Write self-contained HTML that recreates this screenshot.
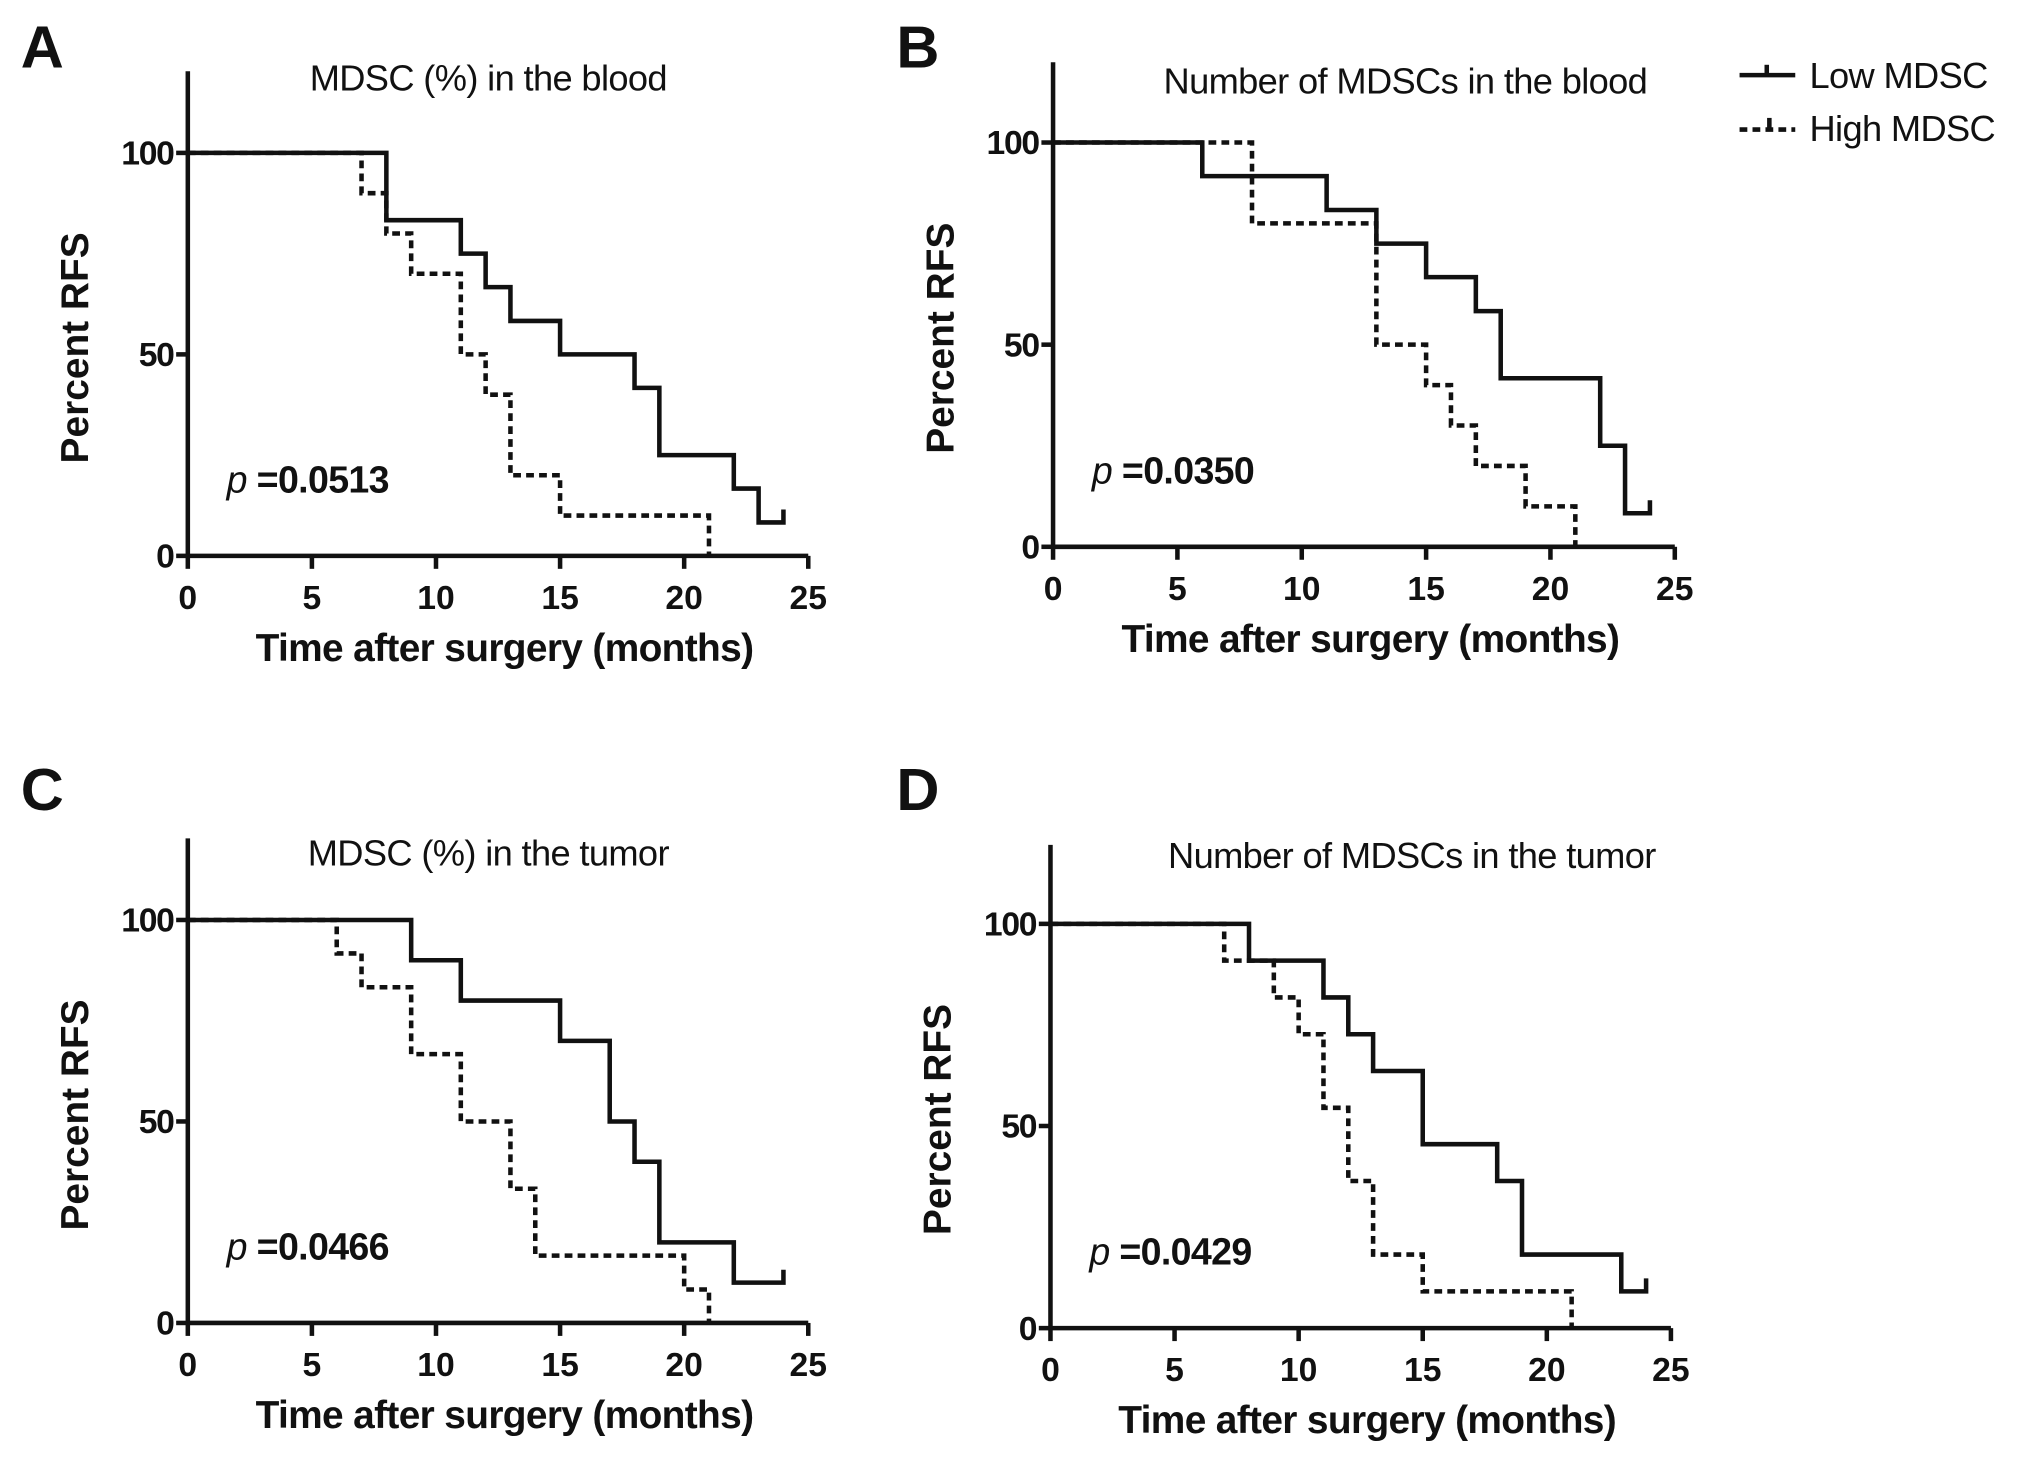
<!DOCTYPE html>
<html><head><meta charset="utf-8"><style>
html,body{margin:0;padding:0;background:#fff;}
svg{display:block;}
text{font-family:"Liberation Sans",sans-serif;fill:#111;}
</style></head>
<body>
<svg id="fig" width="2031" height="1459" viewBox="0 0 1568 1126" preserveAspectRatio="none" xmlns="http://www.w3.org/2000/svg">
<g>
  <line x1="1343" y1="58" x2="1386" y2="58" stroke="#111" stroke-width="3.5"/>
  <line x1="1364" y1="58" x2="1364" y2="50" stroke="#111" stroke-width="3.5"/>
  <text x="1397" y="68" font-size="28" letter-spacing="-0.5">Low MDSC</text>
  <line x1="1343" y1="100" x2="1386" y2="100" stroke="#111" stroke-width="3.5" stroke-dasharray="6,4"/>
  <line x1="1366" y1="100" x2="1366" y2="91" stroke="#111" stroke-width="3.5"/>
  <text x="1397" y="109" font-size="28" letter-spacing="-0.5">High MDSC</text>
</g>
</svg>
<script>
// Panel A: MDSC (%) in the blood
const aLowTimes = [0, 8, 11, 12, 13, 15, 18, 19, 22, 23, 24];
const aLowValues = [100, 83.3, 75, 66.7, 58.3, 50, 41.7, 25, 16.7, 8.3, 8.3];
const aHighTimes = [0, 7, 8, 9, 11, 12, 13, 15, 21];
const aHighValues = [100, 90, 80, 70, 50, 40, 20, 10, 0];
// Panel B: Number of MDSCs in the blood
const bLowTimes = [0, 6, 11, 13, 15, 17, 18, 22, 23, 24];
const bLowValues = [100, 91.7, 83.3, 75, 66.7, 58.3, 41.7, 25, 8.3, 8.3];
const bHighTimes = [0, 8, 13, 15, 16, 17, 19, 21];
const bHighValues = [100, 80, 50, 40, 30, 20, 10, 0];
// Panel C: MDSC (%) in the tumor
const cLowTimes = [0, 9, 11, 15, 17, 18, 19, 22, 24];
const cLowValues = [100, 90, 80, 70, 50, 40, 20, 10, 10];
const cHighTimes = [0, 6, 7, 9, 11, 13, 14, 20, 21];
const cHighValues = [100, 91.7, 83.3, 66.7, 50, 33.3, 16.7, 8.3, 0];
// Panel D: Number of MDSCs in the tumor
const dLowTimes = [0, 8, 11, 12, 13, 15, 18, 19, 23, 24];
const dLowValues = [100, 90.9, 81.8, 72.7, 63.6, 45.5, 36.4, 18.2, 9.1, 9.1];
const dHighTimes = [0, 7, 9, 10, 11, 12, 13, 15, 21];
const dHighValues = [100, 90.9, 81.8, 72.7, 54.5, 36.4, 18.2, 9.1, 0];

const xTicks = [0, 5, 10, 15, 20, 25];
const yTicks = [0, 50, 100];
const panelLetters = ["A", "B", "C", "D"];
const panelTitles = ["MDSC (%) in the blood", "Number of MDSCs in the blood", "MDSC (%) in the tumor", "Number of MDSCs in the tumor"];
const pValues = ["0.0513", "0.0350", "0.0466", "0.0429"];

const NS = "http://www.w3.org/2000/svg";
const svg = document.getElementById("fig");
function mk(tag, attrs, parent, txt) {
  const e = document.createElementNS(NS, tag);
  for (const k in attrs) e.setAttribute(k, attrs[k]);
  if (txt !== undefined) e.textContent = txt;
  parent.appendChild(e);
  return e;
}
const layout = [
  {x0: 145, x1: 624, y100: 118, y0: 429, top: 55, lx: 16, ly: 52, tx: 377, ty: 70},
  {x0: 813, x1: 1293, y100: 110, y0: 422, top: 48, lx: 692, ly: 52, tx: 1085, ty: 72},
  {x0: 145, x1: 624, y100: 710, y0: 1021, top: 647, lx: 16, ly: 625, tx: 377, ty: 668},
  {x0: 811, x1: 1290, y100: 713, y0: 1025, top: 652, lx: 692, ly: 625, tx: 1090, ty: 670}
];
const series = [
  [aLowTimes, aLowValues, aHighTimes, aHighValues],
  [bLowTimes, bLowValues, bHighTimes, bHighValues],
  [cLowTimes, cLowValues, cHighTimes, cHighValues],
  [dLowTimes, dLowValues, dHighTimes, dHighValues]
];
layout.forEach((L, i) => {
  const xs = v => L.x0 + (L.x1 - L.x0) * v / 25;
  const ys = v => L.y0 + (L.y100 - L.y0) * v / 100;
  const g = mk("g", {}, svg);
  
  
  const letter = mk("text", {x: L.lx, y: L.ly, "font-size": 46, "font-weight": "bold"}, g, panelLetters[i]);
  
  
  const title = mk("text", {x: L.tx, y: L.ty, "font-size": 28, "letter-spacing": "-0.5", "text-anchor": "middle"}, g, panelTitles[i]);
  
  
  const ya = mk("line", {x1: L.x0, y1: L.top, x2: L.x0, y2: L.y0, stroke: "#111", "stroke-width": 3.5}, g);
  
  
  const xa = mk("line", {x1: L.x0, y1: L.y0, x2: L.x1, y2: L.y0, stroke: "#111", "stroke-width": 3.5}, g);
  
  
  xTicks.forEach(t => {
    mk("line", {x1: xs(t), y1: L.y0, x2: xs(t), y2: L.y0 + 10, stroke: "#111", "stroke-width": 3.5}, g);
    const tl = mk("text", {x: xs(t), y: L.y0 + 41, "font-size": 26, "font-weight": "bold", "text-anchor": "middle"}, g, String(t));
    
    
  });
  yTicks.forEach(t => {
    mk("line", {x1: L.x0 - 9, y1: ys(t), x2: L.x0, y2: ys(t), stroke: "#111", "stroke-width": 3.5}, g);
    const tl = mk("text", {x: L.x0 - 11, y: ys(t) + 9, "font-size": 26, "font-weight": "bold", "text-anchor": "end", "letter-spacing": "-1"}, g, String(t));
    
    
  });
  const xt = mk("text", {x: (L.x0 + L.x1) / 2 + 5, y: L.y0 + 81, "font-size": 30, "font-weight": "bold", "text-anchor": "middle", "letter-spacing": "-0.5"}, g, "Time after surgery (months)");
  
  
  const cy = (L.y0 + L.y100) / 2 - 5;
  const yt = mk("text", {x: 0, y: 0, "font-size": 30, "font-weight": "bold", "text-anchor": "middle", transform: `translate(${L.x0 - 77},${cy}) rotate(-90)`}, g, "Percent RFS");
  
  
  const pt = mk("text", {x: L.x0 + 30, y: ys(0) - 49, "font-size": 29, "font-weight": "bold", "letter-spacing": "-0.5"}, g);
  mk("tspan", {"font-style": "italic", "font-weight": "normal"}, pt, "p");
  mk("tspan", {}, pt, " =" + pValues[i]);
  
  
  const s = series[i];
  function stepPath(T, V, endTick) {
    let d = `M${xs(T[0])},${ys(V[0])}`;
    for (let k = 1; k < T.length; k++) {
      d += ` H${xs(T[k])} V${ys(V[k])}`;
    }
    if (endTick) d += ` V${ys(V[V.length - 1]) - 10}`;
    return d;
  }
  const low = mk("path", {d: stepPath(s[0], s[1], true), fill: "none", stroke: "#111", "stroke-width": 3.5}, g);
  
  
  const high = mk("path", {d: stepPath(s[2], s[3], false), fill: "none", stroke: "#111", "stroke-width": 3.5, "stroke-dasharray": "6,4"}, g);
  
  
});
</script>
</body></html>
